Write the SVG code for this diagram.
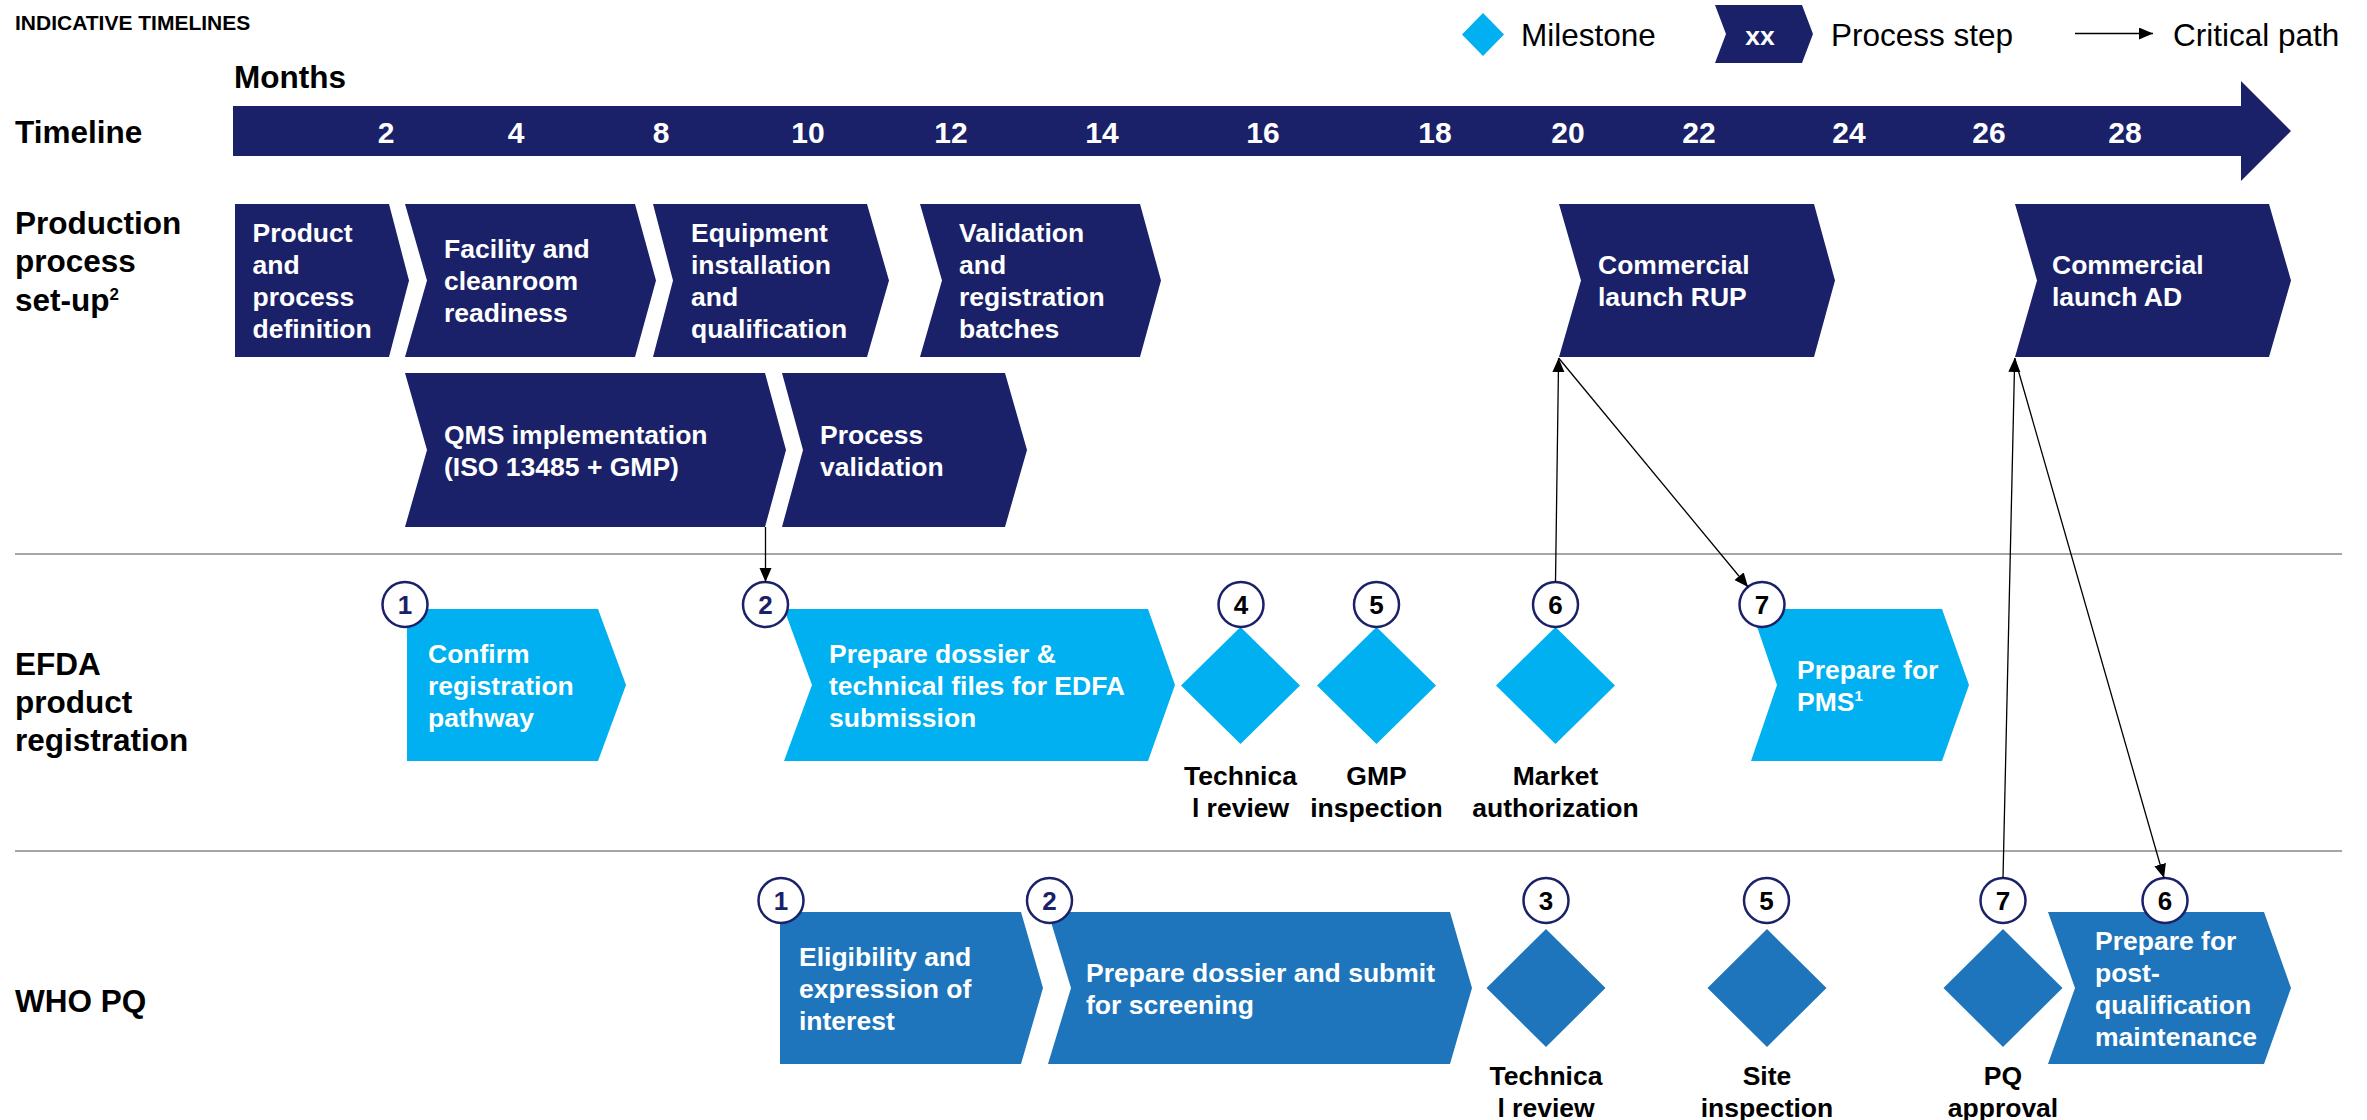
<svg xmlns="http://www.w3.org/2000/svg" width="2367" height="1120" viewBox="0 0 2367 1120">
<defs>
<style>
text { font-family: "Liberation Sans", Arial, sans-serif; }
.title { font-weight: bold; font-size: 21px; fill: #000; }
.h { font-weight: bold; font-size: 31.5px; fill: #000; }
.t { font-weight: bold; font-size: 26.5px; fill: #fff; }
.lbl { font-weight: bold; font-size: 26.5px; fill: #000; text-anchor: middle; }
.num { font-weight: bold; font-size: 26px; fill: #000; text-anchor: middle; }
.numN { fill: #1a2169; }
.navy { fill: #1a2169; }
.cyan { fill: #00b0f0; }
.blue { fill: #1e75bb; }
.circ { fill: #fff; stroke: #1a2169; stroke-width: 2.5; }
.div { stroke: #a6a6a6; stroke-width: 2; }
.leg { font-size: 31.5px; fill: #000; }
.tick { font-weight: bold; font-size: 30px; fill: #fff; text-anchor: middle; }
.cp { stroke: #000; stroke-width: 1.3; fill: none; marker-end: url(#arr); }
</style>
<marker id="arr" markerUnits="userSpaceOnUse" markerWidth="15" markerHeight="13" refX="14" refY="6" orient="auto">
<path d="M0,0 L14,6 L0,12 z" fill="#000"/>
</marker>
</defs>

<rect width="2367" height="1120" fill="#fff"/>

<!-- header and legend -->
<g id="header">
<text class="title" x="15" y="30">INDICATIVE TIMELINES</text>
<text class="h" x="234" y="88">Months</text>
</g>
<g id="legend">
<polygon class="cyan" points="1483,13 1504,34.5 1483,56 1462,34.5"/>
<text class="leg" x="1521" y="46">Milestone</text>
<polygon class="navy" points="1715,5 1802,5 1813,34 1802,63 1715,63 1726,34"/>
<text class="t" x="1760" y="45" text-anchor="middle">xx</text>
<text class="leg" x="1831" y="46">Process step</text>
<line class="cp" x1="2075" y1="33.5" x2="2153" y2="33.5"/>
<text class="leg" x="2173" y="46">Critical path</text>
</g>

<!-- row labels -->
<g id="row-labels">
<text class="h" x="15" y="143">Timeline</text>
<text class="h" x="15" y="234">Production</text>
<text class="h" x="15" y="272">process</text>
<text class="h" x="15" y="311">set-up<tspan font-size="17" dy="-11">2</tspan></text>
<text class="h" x="15" y="675">EFDA</text>
<text class="h" x="15" y="713">product</text>
<text class="h" x="15" y="751">registration</text>
<text class="h" x="15" y="1012">WHO PQ</text>
</g>

<!-- timeline arrow with month ticks -->
<g id="timeline">
<polygon class="navy" points="233,106 2241,106 2241,81 2291,131 2241,181 2241,156 233,156"/>
<text class="tick" x="386" y="143">2</text>
<text class="tick" x="516" y="143">4</text>
<text class="tick" x="661" y="143">8</text>
<text class="tick" x="808" y="143">10</text>
<text class="tick" x="951" y="143">12</text>
<text class="tick" x="1102" y="143">14</text>
<text class="tick" x="1263" y="143">16</text>
<text class="tick" x="1435" y="143">18</text>
<text class="tick" x="1568" y="143">20</text>
<text class="tick" x="1699" y="143">22</text>
<text class="tick" x="1849" y="143">24</text>
<text class="tick" x="1989" y="143">26</text>
<text class="tick" x="2125" y="143">28</text>
</g>

<!-- row dividers -->
<g id="dividers">
<line class="div" x1="15" y1="554" x2="2342" y2="554"/>
<line class="div" x1="15" y1="851" x2="2342" y2="851"/>
</g>

<!-- production process set-up -->
<g id="prod-definition">
<polygon class="navy" points="235,204 389,204 409,280.5 389,357 235,357"/>
<text class="t" x="252.5" y="242">Product</text>
<text class="t" x="252.5" y="274">and</text>
<text class="t" x="252.5" y="306">process</text>
<text class="t" x="252.5" y="338">definition</text>
</g>
<g id="prod-facility">
<polygon class="navy" points="405,204 635,204 656,280.5 635,357 405,357 427,280.5"/>
<text class="t" x="444" y="258">Facility and</text>
<text class="t" x="444" y="290">cleanroom</text>
<text class="t" x="444" y="322">readiness</text>
</g>
<g id="prod-equipment">
<polygon class="navy" points="653,204 867,204 889,280.5 867,357 653,357 673,280.5"/>
<text class="t" x="691" y="242">Equipment</text>
<text class="t" x="691" y="274">installation</text>
<text class="t" x="691" y="306">and</text>
<text class="t" x="691" y="338">qualification</text>
</g>
<g id="prod-validation-batches">
<polygon class="navy" points="920,204 1140,204 1161,280.5 1140,357 920,357 942,280.5"/>
<text class="t" x="959" y="242">Validation</text>
<text class="t" x="959" y="274">and</text>
<text class="t" x="959" y="306">registration</text>
<text class="t" x="959" y="338">batches</text>
</g>
<g id="prod-launch-rup">
<polygon class="navy" points="1559,204 1814,204 1835,280.5 1814,357 1559,357 1581,280.5"/>
<text class="t" x="1598" y="274">Commercial</text>
<text class="t" x="1598" y="306">launch RUP</text>
</g>
<g id="prod-launch-ad">
<polygon class="navy" points="2015,204 2269,204 2291,280.5 2269,357 2015,357 2037,280.5"/>
<text class="t" x="2052" y="274">Commercial</text>
<text class="t" x="2052" y="306">launch AD</text>
</g>
<g id="prod-qms">
<polygon class="navy" points="405,373 765,373 786,450 765,527 405,527 427,450"/>
<text class="t" x="444" y="443.5">QMS implementation</text>
<text class="t" x="444" y="475.5">(ISO 13485 + GMP)</text>
</g>
<g id="prod-process-validation">
<polygon class="navy" points="782,373 1005,373 1027,450 1005,527 782,527 803,450"/>
<text class="t" x="820" y="443.5">Process</text>
<text class="t" x="820" y="475.5">validation</text>
</g>

<!-- EFDA product registration -->
<g id="efda-1">
<polygon class="cyan" points="407,609 598,609 626,685 598,761 407,761"/>
<text class="t" x="428" y="662.5">Confirm</text>
<text class="t" x="428" y="694.5">registration</text>
<text class="t" x="428" y="726.5">pathway</text>
<circle class="circ" cx="405" cy="604.5" r="22.5"/>
<text class="num numN" x="405" y="614">1</text>
</g>
<g id="efda-2">
<polygon class="cyan" points="784,609 1148,609 1175,685 1148,761 784,761 812,685"/>
<text class="t" x="829" y="662.5">Prepare dossier &amp;</text>
<text class="t" x="829" y="694.5">technical files for EDFA</text>
<text class="t" x="829" y="726.5">submission</text>
<circle class="circ" cx="765.5" cy="604.5" r="22.5"/>
<text class="num numN" x="765.5" y="614">2</text>
</g>
<g id="efda-4">
<polygon class="cyan" points="1240.5,627 1300,685.5 1240.5,744 1181,685.5"/>
<circle class="circ" cx="1241" cy="604.5" r="22.5"/>
<text class="num" x="1241" y="614">4</text>
<text class="lbl" x="1240.5" y="785">Technica</text>
<text class="lbl" x="1240.5" y="817">l review</text>
</g>
<g id="efda-5">
<polygon class="cyan" points="1376.5,627 1436,685.5 1376.5,744 1317,685.5"/>
<circle class="circ" cx="1376.5" cy="604.5" r="22.5"/>
<text class="num" x="1376.5" y="614">5</text>
<text class="lbl" x="1376.5" y="785">GMP</text>
<text class="lbl" x="1376.5" y="817">inspection</text>
</g>
<g id="efda-6">
<polygon class="cyan" points="1555.5,627 1615,685.5 1555.5,744 1496,685.5"/>
<circle class="circ" cx="1555.5" cy="604.5" r="22.5"/>
<text class="num" x="1555.5" y="614">6</text>
<text class="lbl" x="1555.5" y="785">Market</text>
<text class="lbl" x="1555.5" y="817">authorization</text>
</g>
<g id="efda-7">
<polygon class="cyan" points="1751,609 1942,609 1969,685 1942,761 1751,761 1777,685"/>
<text class="t" x="1797" y="678.5">Prepare for</text>
<text class="t" x="1797" y="710.5">PMS<tspan font-size="15" dy="-10">1</tspan></text>
<circle class="circ" cx="1762" cy="604.5" r="22.5"/>
<text class="num" x="1762" y="614">7</text>
</g>

<!-- WHO prequalification -->
<g id="who-1">
<polygon class="blue" points="780,912 1021,912 1043,988 1021,1064 780,1064"/>
<text class="t" x="799" y="965.5">Eligibility and</text>
<text class="t" x="799" y="997.5">expression of</text>
<text class="t" x="799" y="1029.5">interest</text>
<circle class="circ" cx="781" cy="900.5" r="22.5"/>
<text class="num numN" x="781" y="910">1</text>
</g>
<g id="who-2">
<polygon class="blue" points="1048,912 1450,912 1472,988 1450,1064 1048,1064 1071,988"/>
<text class="t" x="1086" y="981.5">Prepare dossier and submit</text>
<text class="t" x="1086" y="1013.5">for screening</text>
<circle class="circ" cx="1049.5" cy="900.5" r="22.5"/>
<text class="num numN" x="1049.5" y="910">2</text>
</g>
<g id="who-3">
<polygon class="blue" points="1546,929 1605.5,988 1546,1047 1486.5,988"/>
<circle class="circ" cx="1546" cy="900.5" r="22.5"/>
<text class="num" x="1546" y="910">3</text>
<text class="lbl" x="1546" y="1085">Technica</text>
<text class="lbl" x="1546" y="1117">l review</text>
</g>
<g id="who-5">
<polygon class="blue" points="1767,929 1826.5,988 1767,1047 1707.5,988"/>
<circle class="circ" cx="1766.5" cy="900.5" r="22.5"/>
<text class="num" x="1766.5" y="910">5</text>
<text class="lbl" x="1767" y="1085">Site</text>
<text class="lbl" x="1767" y="1117">inspection</text>
</g>
<g id="who-7">
<polygon class="blue" points="2003,929 2062.5,988 2003,1047 1943.5,988"/>
<circle class="circ" cx="2003" cy="900.5" r="22.5"/>
<text class="num" x="2003" y="910">7</text>
<text class="lbl" x="2003" y="1085">PQ</text>
<text class="lbl" x="2003" y="1117">approval</text>
</g>
<g id="who-6">
<polygon class="blue" points="2048,912 2264,912 2291,988 2264,1064 2048,1064 2075,988"/>
<text class="t" x="2095" y="949.5">Prepare for</text>
<text class="t" x="2095" y="981.5">post-</text>
<text class="t" x="2095" y="1013.5">qualification</text>
<text class="t" x="2095" y="1045.5">maintenance</text>
<circle class="circ" cx="2165" cy="900.5" r="22.5"/>
<text class="num" x="2165" y="910">6</text>
</g>

<!-- critical path connectors -->
<g id="connectors">
<line class="cp" x1="765.5" y1="527" x2="765.5" y2="582"/>
<line class="cp" x1="1555.5" y1="582" x2="1558.6" y2="358"/>
<line class="cp" x1="1558.6" y1="358" x2="1748" y2="587"/>
<line class="cp" x1="2003" y1="878" x2="2014.7" y2="358"/>
<line class="cp" x1="2014.7" y1="358" x2="2164" y2="878"/>
</g>
</svg>
